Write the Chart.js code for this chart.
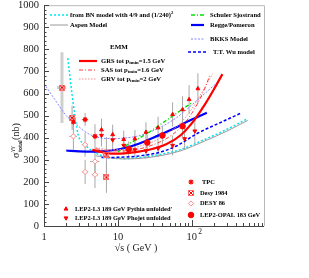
<!DOCTYPE html>
<html>
<head>
<meta charset="utf-8">
<script src="https://cdn.jsdelivr.net/npm/chart.js@4.4.1/dist/chart.umd.min.js"></script>
<style>
	html, body { margin: 0; padding: 0; background: #fff; }
	#wrap { width: 309px; height: 278px; }
</style>
</head>
<body>
<div id="wrap"><canvas id="sigmaChart" width="309" height="278"></canvas></div>
<script>
// Axis ticks
const yTicks = [0, 100, 200, 300, 400, 500, 600, 700, 800, 900, 1000];
const xMajor = [1, 10, 100];
const xTickText = ["1", "10", "10"];
const xTickExp = ["", "", "2"];

// Model curves: W (GeV) / sigma (nb)
const bnW = [2.1, 2.4, 2.9, 3.6, 4.5, 5.7, 8, 12, 20, 40, 70, 150, 300, 570];
const bnS = [760, 595, 414, 368, 340, 322, 310, 305, 310, 326, 346, 392, 438, 486];
const aspenW = [5, 8, 12, 20, 40, 70, 150, 300, 570];
const aspenS = [318, 308, 304, 306, 320, 340, 385, 430, 478];
const bkksW = [1, 1.4, 2, 2.6, 3.5, 4.9, 8, 12, 20, 35, 63, 103, 205];
const bkksS = [645, 573, 500, 468, 430, 405, 396, 398, 410, 442, 492, 552, 640];
const ssW = [10, 13, 20, 27, 45, 65, 100];
const ssS = [335, 365, 400, 427, 478, 515, 558];
const reggeW = [2, 3, 5, 8, 12, 20, 30, 50, 100, 160];
const reggeS = [342, 338, 337, 342, 352, 375, 400, 432, 482, 513];
const wuW = [6, 12, 20, 35, 60, 120, 250, 475];
const wuS = [310, 312, 318, 332, 360, 420, 470, 513];
const grsW = [4.5, 6, 8, 11, 15, 20, 30, 45, 70, 100, 150, 200, 260];
const grsS = [345, 335, 328, 328, 332, 338, 350, 370, 410, 465, 550, 620, 688];
const sasW = [5, 8, 12, 20, 30, 45, 70, 100, 140, 175];
const sasS = [350, 340, 340, 350, 368, 395, 445, 510, 600, 680];
const grvW = [5, 8, 12, 20, 30, 45, 70, 100, 140, 192];
const grvS = [355, 345, 348, 362, 382, 415, 465, 530, 610, 690];

// Measurements
const tpcW = [2.5, 3.6, 4.9];
const tpcS = [471, 482, 406];
const tpcErr = [35, 30, 55];
const tpcWErr = [0, 0.35, 0.4];

const d84W = [1.75, 2.4, 7.0, 7.0];
const d84S = [627, 490, 323, 220];
const d84Err = [160, 55, 80, 70];
const d84WErr = [0.25, 0.3, 0, 0];

const d86W = [2.5, 3.6, 3.6, 4.9, 4.9];
const d86S = [406, 368, 245, 292, 232];
const d86Err = [60, 55, 55, 60, 60];
const d86WErr = [0.3, 0.35, 0.35, 0.7, 0.45];

const pyW = [6, 8.5, 12, 17, 24, 35, 55, 75, 92, 121];
const pyS = [436, 414, 392, 395, 425, 445, 505, 527, 573, 622];
const pyErr = [50, 45, 40, 40, 45, 50, 55, 60, 65, 70];

const phW = [6, 8.5, 12, 17, 24, 35, 55, 80, 110];
const phS = [410, 390, 365, 345, 340, 352, 365, 395, 430];
const phErr = [50, 45, 40, 35, 35, 40, 45, 50, 55];

const opalW = [14, 25, 40, 75];
const opalS = [348, 378, 410, 452];
const opalErr = [35, 35, 40, 50];

const pts = (ws, ss) => ws.map((w, i) => ({ x: w, y: ss[i] }));

// Desy 1984 marker: square with a cross
function crossedSquare() {
	const c = document.createElement("canvas");
	c.width = 6;
	c.height = 6;
	const g = c.getContext("2d");
	g.strokeStyle = "#ff6a6a";
	g.lineWidth = 1;
	g.strokeRect(0.5, 0.5, 5, 5);
	g.strokeStyle = "#ff0000";
	g.beginPath();
	g.moveTo(1, 1); g.lineTo(5, 5);
	g.moveTo(5, 1); g.lineTo(1, 5);
	g.stroke();
	return c;
}
const crossMark = crossedSquare();

function curve(label, ws, ss, color, width, dash) {
	return {
		type: "line",
		label,
		data: pts(ws, ss),
		borderColor: color,
		borderWidth: width,
		borderDash: dash,
		pointRadius: 0,
		fill: false,
		cubicInterpolationMode: "monotone",
	};
}

function marks(label, ws, ss, style) {
	return Object.assign({ type: "scatter", label, data: pts(ws, ss) }, style);
}

const datasets = [
	marks("TPC", tpcW, tpcS, { pointStyle: "star", pointRadius: 2.6, borderColor: "#ff0000", borderWidth: 1.2, errY: tpcErr, errX: tpcWErr }),
	marks("Desy 1984", d84W, d84S, { pointStyle: crossMark, pointRadius: 3, errY: d84Err, errX: d84WErr, errWidth: [3, 1, 1, 1], errColor: ["#cfcfcf", "#a8a8a8", "#a8a8a8", "#a8a8a8"] }),
	marks("DESY 86", d86W, d86S, { pointStyle: "rectRot", pointRadius: 2.6, borderColor: "#ff8c8c", backgroundColor: "#ffffff", borderWidth: 1, errY: d86Err, errX: d86WErr }),
	marks("LEP2-OPAL 183 GeV", opalW, opalS, { pointStyle: "circle", pointRadius: 2.8, backgroundColor: "#ff0000", borderColor: "#ff0000", errY: opalErr }),
	marks("LEP2-L3 189 GeV Pythia unfolded'", pyW, pyS, { pointStyle: "triangle", pointRadius: 2.2, backgroundColor: "#ff0000", borderColor: "#ff0000", errY: pyErr }),
	marks("LEP2-L3 189 GeV Phojet unfolded", phW, phS, { pointStyle: "triangle", rotation: 180, pointRadius: 2.2, backgroundColor: "#ff0000", borderColor: "#ff0000", errY: phErr }),
	curve("GRS tot p_tmin=1.5 GeV", grsW, grsS, "#ff0000", 2.2, []),
	curve("SAS tot p_tmin=1.6 GeV", sasW, sasS, "#ff3c3c", 1, [4, 2, 1, 2]),
	curve("GRV tot p_tmin=2 GeV", grvW, grvS, "#ff8a8a", 1, [1.5, 1.5]),
	curve("Regge/Pomeron", reggeW, reggeS, "#0000ff", 2.2, []),
	curve("T.T. Wu model", wuW, wuS, "#0000ff", 1.5, [3, 2]),
	curve("Schuler Sjostrand", ssW, ssS, "#00e000", 1.4, [4, 2, 1, 2]),
	curve("BKKS Model", bkksW, bkksS, "#8484ff", 1, [2, 1.5]),
	curve("Aspen Model", aspenW, aspenS, "#9a9a9a", 1, []),
	curve("from BN model with 4/9 and (1/240)^2", bnW, bnS, "#00e5ee", 1.5, [2, 2]),
];

const pick = (v, i) => (Array.isArray(v) ? v[i] : v);

// Error bars drawn under the markers
const errorBars = {
	id: "errorBars",
	beforeDatasetsDraw(chart) {
		const { ctx, scales: { x, y } } = chart;
		ctx.save();
		chart.data.datasets.forEach((ds) => {
			if (!ds.errY) return;
			ds.data.forEach((p, i) => {
				ctx.strokeStyle = pick(ds.errColor, i) || "#a8a8a8";
				ctx.lineWidth = pick(ds.errWidth, i) || 1;
				const px = x.getPixelForValue(p.x);
				const e = ds.errY[i];
				ctx.beginPath();
				ctx.moveTo(px, y.getPixelForValue(p.y - e));
				ctx.lineTo(px, y.getPixelForValue(p.y + e));
				const we = ds.errX ? ds.errX[i] : 0;
				if (we) {
					const py = y.getPixelForValue(p.y);
					ctx.moveTo(x.getPixelForValue(p.x - we), py);
					ctx.lineTo(x.getPixelForValue(p.x + we), py);
				}
				ctx.stroke();
			});
		});
		ctx.restore();
	},
};

// Text with sub/superscripts
function rich(ctx, parts, x, y, size) {
	let cx = x;
	parts.forEach(([t, mode]) => {
		const s = mode ? size * 0.72 : size;
		ctx.font = `bold ${s}px 'Liberation Serif'`;
		const dy = mode === "sub" ? size * 0.3 : mode === "sup" ? -size * 0.4 : 0;
		ctx.fillText(t, cx, y + dy);
		cx += ctx.measureText(t).width;
	});
}

const lineKeys = [
	{ ds: 14, x0: 50, x1: 68, y: 15, tx: 70, text: [["from BN model with 4/9 and (1/240)"], ["2", "sup"]] },
	{ ds: 13, x0: 50, x1: 68, y: 25, tx: 70, text: [["Aspen Model"]] },
	{ ds: 11, x0: 191, x1: 204, y: 15, tx: 210, text: [["Schuler Sjostrand"]] },
	{ ds: 9, x0: 191, x1: 204, y: 25, tx: 210, text: [["Regge/Pomeron"]] },
	{ ds: 12, x0: 191, x1: 204, y: 39, tx: 210, text: [["BKKS Model"]] },
	{ ds: 10, x0: 188, x1: 206, y: 52, tx: 213, text: [["T.T. Wu model"]] },
	{ ds: 6, x0: 79, x1: 97, y: 61, tx: 101, text: [["GRS tot p"], ["tmin", "sub"], ["=1.5 GeV"]] },
	{ ds: 7, x0: 79, x1: 97, y: 70, tx: 101, text: [["SAS tot p"], ["tmin", "sub"], ["=1.6 GeV"]] },
	{ ds: 8, x0: 79, x1: 97, y: 79, tx: 101, text: [["GRV tot p"], ["tmin", "sub"], ["=2 GeV"]] },
];

const markKeys = [
	{ ds: 4, x: 66, y: 209, tx: 75 },
	{ ds: 5, x: 66, y: 218, tx: 75 },
	{ ds: 0, x: 191, y: 182, tx: 202 },
	{ ds: 1, x: 191, y: 193, tx: 200 },
	{ ds: 2, x: 191, y: 203.5, tx: 200 },
	{ ds: 3, x: 191, y: 215, tx: 200 },
];

const keyBox = {
	id: "keyBox",
	afterDatasetsDraw(chart) {
		const { ctx } = chart;
		const sets = chart.data.datasets;
		ctx.save();
		ctx.fillStyle = "#000";
		ctx.textBaseline = "middle";
		lineKeys.forEach((k) => {
			const ds = sets[k.ds];
			ctx.strokeStyle = ds.borderColor;
			ctx.lineWidth = ds.borderWidth;
			ctx.setLineDash(ds.borderDash);
			ctx.beginPath();
			ctx.moveTo(k.x0, k.y);
			ctx.lineTo(k.x1, k.y);
			ctx.stroke();
			ctx.setLineDash([]);
			rich(ctx, k.text, k.tx, k.y, 6.6);
		});
		ctx.font = "bold 7px 'Liberation Serif'";
		ctx.fillText("EMM", 110, 47);
		markKeys.forEach((k) => {
			const ds = sets[k.ds];
			ctx.fillStyle = ds.backgroundColor || "#ff0000";
			ctx.strokeStyle = ds.borderColor || "#ff0000";
			ctx.lineWidth = ds.borderWidth || 1;
			Chart.helpers.drawPoint(ctx, {
				pointStyle: ds.pointStyle,
				radius: ds.pointRadius,
				rotation: ds.rotation || 0,
				borderWidth: ds.borderWidth || 1,
			}, k.x, k.y);
			ctx.fillStyle = "#000";
			rich(ctx, [[ds.label]], k.tx, k.y, 6.4);
		});
		ctx.restore();
	},
};

// Frame, inward ticks, tick labels and axis titles
const frame = {
	id: "frame",
	afterDraw(chart) {
		const { ctx, chartArea: a, scales: { x, y } } = chart;
		ctx.save();
		ctx.lineWidth = 1;
		ctx.strokeStyle = "#b9b9b9";
		ctx.beginPath();
		ctx.moveTo(a.left, a.top + 0.5);
		ctx.lineTo(a.right + 0.5, a.top + 0.5);
		ctx.lineTo(a.right + 0.5, a.bottom);
		ctx.stroke();

		ctx.strokeStyle = "#444";
		ctx.beginPath();
		ctx.moveTo(a.left + 0.5, a.top);
		ctx.lineTo(a.left + 0.5, a.bottom + 0.5);
		ctx.lineTo(a.right, a.bottom + 0.5);
		for (let v = 0; v <= 1000; v += 20) {
			const py = Math.round(y.getPixelForValue(v)) + 0.5;
			ctx.moveTo(a.left, py);
			ctx.lineTo(a.left + (v % 100 === 0 ? 5 : 2.5), py);
		}
		xMajor.forEach((d) => {
			for (let m = 1; m <= 9; m++) {
				const v = m * d;
				if (v > x.max) break;
				const px = Math.round(x.getPixelForValue(v)) + 0.5;
				ctx.moveTo(px, a.bottom);
				ctx.lineTo(px, a.bottom - (m === 1 ? 6 : 3));
			}
		});
		ctx.stroke();

		ctx.fillStyle = "#222";
		ctx.font = "10.5px 'Liberation Serif'";
		ctx.textAlign = "right";
		ctx.textBaseline = "middle";
		yTicks.forEach((v) => ctx.fillText(String(v), a.left - 5, y.getPixelForValue(v)));

		ctx.textAlign = "center";
		xMajor.forEach((v, i) => {
			const px = x.getPixelForValue(v);
			ctx.font = "10.5px 'Liberation Serif'";
			ctx.fillText(xTickText[i], px, 237);
			if (xTickExp[i]) {
				const w = ctx.measureText(xTickText[i]).width;
				ctx.font = "7.5px 'Liberation Serif'";
				ctx.fillText(xTickExp[i], px + w / 2 + 3, 232);
			}
		});

		ctx.font = "10px 'Liberation Serif'";
		ctx.fillText("\u221As ( GeV )", 136, 248);

		// y title: sigma^{gamma gamma}_{total} (nb)
		ctx.translate(19, 158);
		ctx.rotate(-Math.PI / 2);
		ctx.textAlign = "left";
		ctx.textBaseline = "alphabetic";
		ctx.font = "10px 'Liberation Serif'";
		ctx.fillText("\u03C3", 0, 0);
		let cx = ctx.measureText("\u03C3").width + 0.5;
		ctx.font = "6.5px 'Liberation Serif'";
		ctx.fillText("\u03B3\u03B3", cx, -5);
		ctx.font = "bold 6px 'Liberation Serif'";
		ctx.fillText("total", cx, 2.5);
		cx += ctx.measureText("total").width + 0.5;
		ctx.font = "10px 'Liberation Serif'";
		ctx.fillText("(nb)", cx, 0);
		ctx.restore();
	},
};

new Chart(document.getElementById("sigmaChart"), {
	type: "scatter",
	data: { datasets },
	options: {
		responsive: false,
		animation: false,
		events: [],
		layout: { padding: { left: 0, right: 45, top: 5, bottom: 0 } },
		plugins: { legend: { display: false }, tooltip: { enabled: false } },
		scales: {
			x: {
				type: "logarithmic",
				min: 1,
				max: 950,
				bounds: "data",
				grid: { display: false },
				border: { display: false },
				ticks: { display: false },
				afterFit: (s) => { s.height = 52; },
			},
			y: {
				type: "linear",
				min: 0,
				max: 1000,
				grid: { display: false },
				border: { display: false },
				ticks: { display: false },
				afterFit: (s) => { s.width = 44; },
			},
		},
	},
	plugins: [errorBars, keyBox, frame],
});
</script>
</body>
</html>
